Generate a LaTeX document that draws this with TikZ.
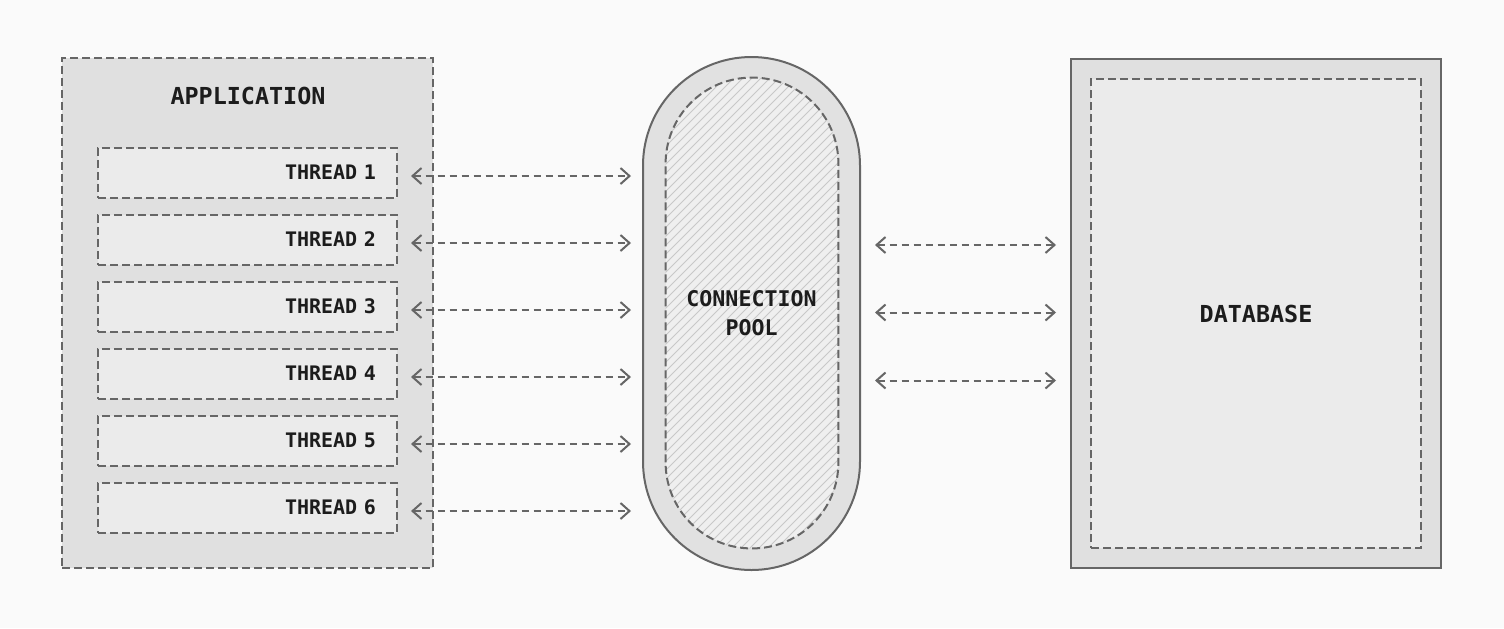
\documentclass[tikz,border=0pt]{standalone}
\usepackage{fontspec}
\newfontfamily\labelfont{DejaVu Sans Mono}
\usetikzlibrary{positioning, arrows.meta}
\definecolor{bgcol}{HTML}{FAFAFA}
\definecolor{linecol}{HTML}{666666}
\definecolor{textcol}{HTML}{1C1C1C}
\definecolor{outercol}{HTML}{E0E0E0}
\definecolor{innercol}{HTML}{EBEBEB}
\definecolor{hatchcol}{HTML}{C8C8C8}
\tikzset{
x=0.5pt, y=-0.5pt, % one unit is one pixel of the reference, y runs downward
node distance=7.5pt, % gap between two thread boxes
dashline/.style={draw=linecol, line width=1pt, dash pattern=on 4pt off 2pt}, % dashed borders
solidline/.style={draw=linecol, line width=1pt}, % solid borders
thread/.style={dashline, fill=innercol, text width=128.5pt, inner xsep=10.5pt, minimum height=25pt, align=right, text=textcol, font=\labelfont\bfseries\fontsize{10}{12}\selectfont}, % one thread of the application
title/.style={text=textcol, font=\labelfont\bfseries\fontsize{11.7}{14}\selectfont}, % big labels
link/.style={linecol, line width=1pt, dash pattern=on 3.5pt off 2.5pt, {Straight Barb[length=4.5pt,width=8pt]}-{Straight Barb[length=4.5pt,width=8pt]}}, % two way connection
}

\begin{document}
\begin{tikzpicture}
        \fill[bgcol] (0,0) rectangle (1504,628);
        \useasboundingbox (0,0) rectangle (1504,628);

        % application with its threads
        \node[dashline, fill=outercol, minimum width=185.5pt, minimum height=255pt] (app) at (247.5,313) {};
        \node[title] (apptitle) at (248,96) {APPLICATION};
        \node[thread] (t1) at (247.5,172.5) {THREAD 1};
        \node[thread, below=of t1] (t2) {THREAD 2};
        \node[thread, below=of t2] (t3) {THREAD 3};
        \node[thread, below=of t3] (t4) {THREAD 4};
        \node[thread, below=of t4] (t5) {THREAD 5};
        \node[thread, below=of t5] (t6) {THREAD 6};

        % connection pool
        \node[solidline, fill=outercol!90!innercol, rounded corners=54.25pt, minimum width=108.5pt, minimum height=256.5pt] (pool) at (751.5,313.5) {};
        \node[fill=innercol!70!bgcol, rounded corners=43pt, minimum width=86pt, minimum height=235pt] (poolin) at (752,313) {};
        \begin{scope}
            \clip[rounded corners=43pt] (poolin.south west) rectangle (poolin.north east);
            \foreach \c in {740,749,...,1400}
                \draw[hatchcol, line width=0.5pt] (\c-560,560) -- (\c-60,60);
        \end{scope}
        \draw[dashline, rounded corners=43pt] (poolin.south west) rectangle (poolin.north east);
        \node[title, font=\labelfont\bfseries\fontsize{10.8}{14.5}\selectfont, align=center] (pooltext) at (pool) {CONNECTION\\POOL};

        % database
        \node[solidline, fill=outercol, minimum width=185pt, minimum height=254.5pt] (db) at (1256,313.5) {};
        \node[dashline, fill=innercol, minimum width=165pt, minimum height=234.5pt] (dbin) at (db) {};
        \node[title] (dbtext) at (1256,314) {DATABASE};

        % connections
        \foreach \i in {1,...,6}
            \draw[link, shorten <=6.5pt, shorten >=5.5pt] ([yshift=-1.75pt]t\i.east) -- ([yshift=-1.75pt]t\i.east -| pool.west);
        \foreach \s in {34.25pt,0.5pt,-33.5pt}
            \draw[link, shorten <=7pt, shorten >=7pt] ([yshift=\s]pool.east) -- ([yshift=\s]pool.east -| db.west);
\end{tikzpicture}
\end{document}
